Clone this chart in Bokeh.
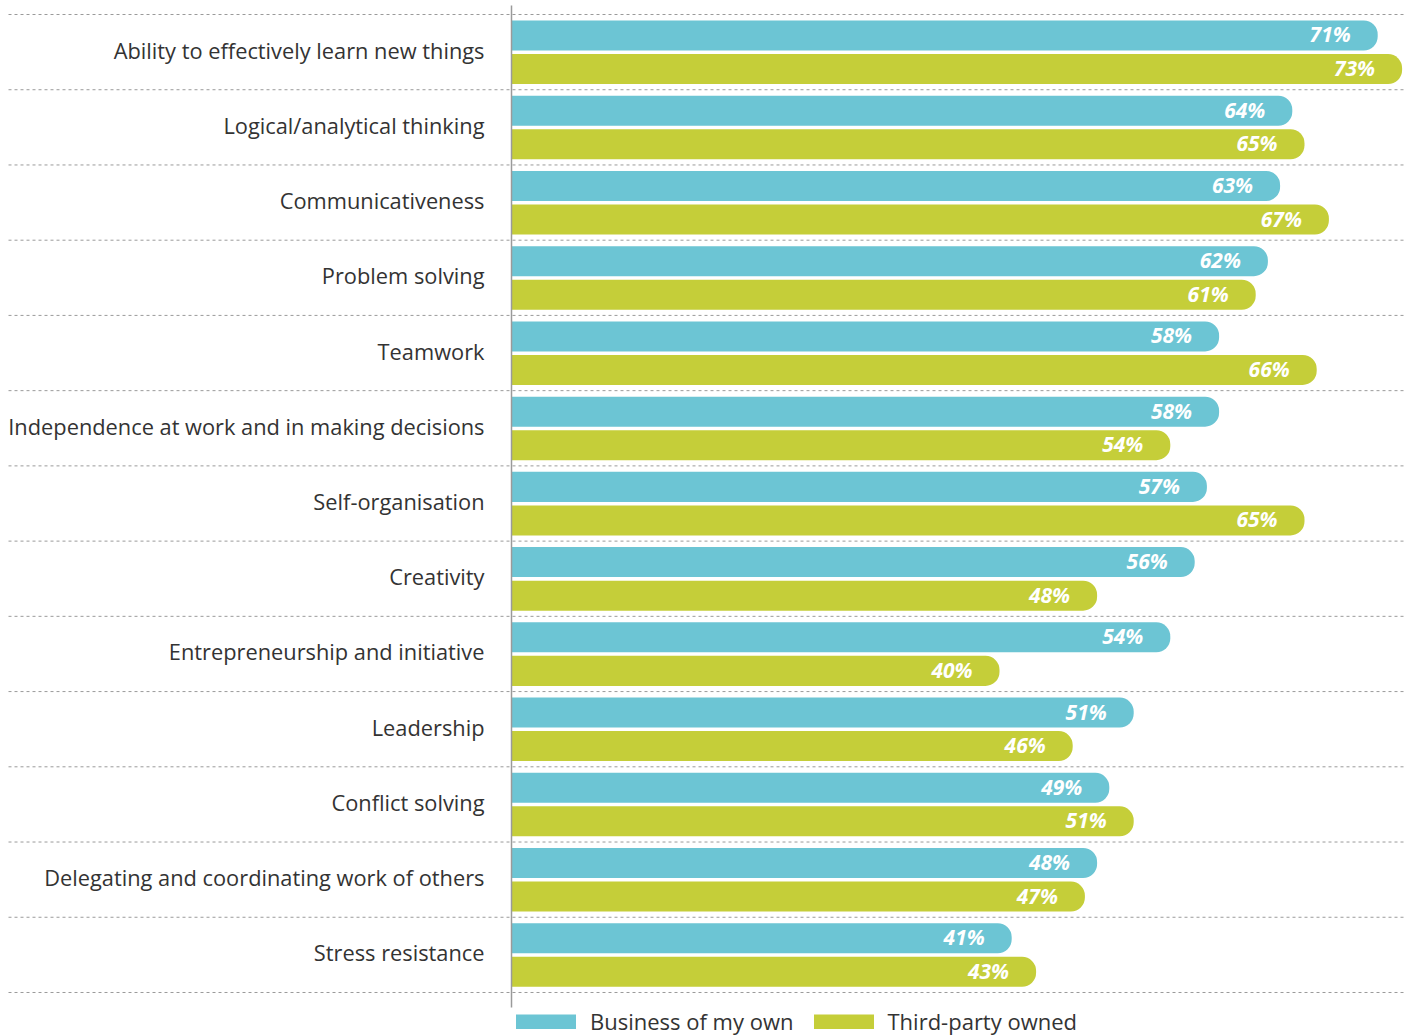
from bokeh.plotting import figure
from bokeh.models import Range1d, ColumnDataSource, Legend, LegendItem
from bokeh.core.properties import value
from bokeh.embed import file_html
from bokeh.resources import INLINE

categories = [
    "Ability to effectively learn new things",
    "Logical/analytical thinking",
    "Communicativeness",
    "Problem solving",
    "Teamwork",
    "Independence at work and in making decisions",
    "Self-organisation",
    "Creativity",
    "Entrepreneurship and initiative",
    "Leadership",
    "Conflict solving",
    "Delegating and coordinating work of others",
    "Stress resistance",
]
own = [71, 64, 63, 62, 58, 58, 57, 56, 54, 51, 49, 48, 41]
third = [73, 65, 67, 61, 66, 54, 65, 48, 40, 46, 51, 47, 43]
series_names = ["Business of my own", "Third-party owned"]

BLUE = "#6cc5d4"
GREEN = "#c5ce39"
W, H = 1411, 1036
AX_PX = 511
SCALE = 12.2
TOP_PX = 14
ROW_PX = 75.23

p = figure(width=W, height=H, output_backend="svg", toolbar_location=None,
           x_range=Range1d(-AX_PX / SCALE, (W - AX_PX) / SCALE),
           y_range=Range1d((H - TOP_PX) / ROW_PX, -TOP_PX / ROW_PX),
           min_border=0, outline_line_color=None)
p.axis.visible = False
p.grid.visible = False
p.background_fill_color = "white"
p.border_fill_color = "white"

n = len(categories)
rows = list(range(n))
src = ColumnDataSource(dict(
    cat=categories,
    own=own, third=third,
    own_lbl=[f"{v}%" for v in own],
    third_lbl=[f"{v}%" for v in third],
    y_own=[r + 0.279 for r in rows],
    y_third=[r + 0.725 for r in rows],
    y_mid=[r + 0.5 for r in rows],
    zero=[0] * n,
))

# dashed separators
sep_y = list(range(n + 1))
p.segment(x0=[(8 - AX_PX) / SCALE] * len(sep_y), x1=[(1406 - AX_PX) / SCALE] * len(sep_y),
          y0=sep_y, y1=sep_y, line_color="#9a9a9a", line_width=1, line_dash="3 3")

p.hbar(y="y_own", left=0, right="own", height=0.399, source=src,
       fill_color=BLUE, line_color=None, border_radius=(0, 14, 14, 0))
p.hbar(y="y_third", left=0, right="third", height=0.399, source=src,
       fill_color=GREEN, line_color=None, border_radius=(0, 14, 14, 0))

# axis line
p.segment(x0=[0], x1=[0], y0=[-0.12], y1=[13.2], line_color="#9a9a9a", line_width=1.5)

# value labels
for col, ycol in (("own", "y_own"), ("third", "y_third")):
    p.text(x=col, y=ycol, text=col + "_lbl", source=src, x_offset=-27, y_offset=-1,
           text_align="right", text_baseline="middle", text_color="white",
           text_font=value("Open Sans"), text_font_style="bold italic",
           text_font_size="21px")

# category labels
p.text(x="zero", y="y_mid", text="cat", source=src, x_offset=-27, y_offset=-2,
       text_align="right", text_baseline="middle", text_color="#333333",
       text_font=value("Open Sans"), text_font_size="21.8px")

# legend swatches (thick lines placed outside the visible range, shown only in the legend)
off_x = [-200, -199]
off_y = [-50, -50]
lg_own = p.line(x=off_x, y=off_y, line_color=BLUE, line_width=15, line_cap="round")
lg_third = p.line(x=off_x, y=off_y, line_color=GREEN, line_width=15, line_cap="round")

legend = Legend(items=[LegendItem(label=series_names[0], renderers=[lg_own]),
                       LegendItem(label=series_names[1], renderers=[lg_third])],
                location=(516, 0), orientation="horizontal",
                glyph_width=60, glyph_height=15, label_standoff=14, spacing=20,
                label_text_font="Open Sans", label_text_font_size="22px",
                label_text_color="#333333", background_fill_alpha=0,
                border_line_color=None, padding=10, margin=0)
p.add_layout(legend, "center")

open("out.html", "w").write(file_html(p, INLINE))
